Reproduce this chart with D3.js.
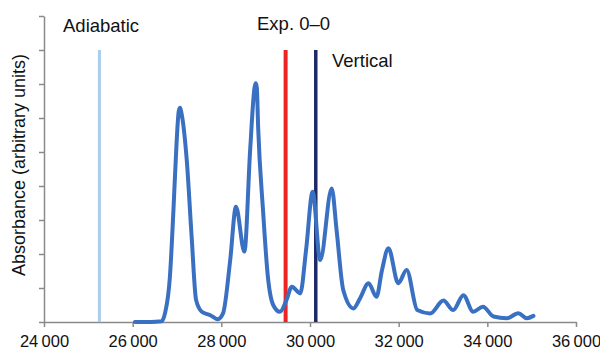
<!DOCTYPE html>
<html lang="en">
<head>
<meta charset="UTF-8">
<title>Absorbance</title>
<style>
  body { margin: 0; background: #fff; }
  text { font-family: "Liberation Sans", Arial, sans-serif; }
</style>
</head>
<body>
<svg width="600" height="352"></svg>
<script src="https://d3js.org/d3.v7.min.js"></script>
<script>
// spectrum: wavenumber (cm-1) and absorbance
const wavenumber = [26050, 26400, 26650, 26730, 26840, 26920, 26990, 27040, 27070, 27100, 27220, 27330, 27430, 27560, 27750, 27920,
  28040, 28200, 28330, 28520, 28650, 28750, 28775, 28800, 28830, 28940, 29050, 29170, 29320, 29470, 29590, 29780, 29910,
  30060, 30230, 30490, 30600, 30750, 30980, 31130, 31320, 31500, 31620, 31770, 31990, 32180, 32420, 32710, 33010, 33230,
  33460, 33680, 33900, 34140, 34440, 34700, 34890, 35040];
const absorbance = [0, 0, 0.02, 0.26, 1.33, 3.3, 5.26, 6.2, 6.3, 6.15, 4.76, 2.51, 0.65, 0.3, 0.2, 0.08,
  0.26, 1.82, 3.39, 2.07, 5.06, 6.9, 7.02, 6.9, 5.74, 3.29, 1.33, 0.5, 0.3, 0.65, 1.04, 0.84, 2.1,
  3.83, 1.82, 3.93, 2.7, 0.94, 0.4, 0.7, 1.14, 0.74, 1.5, 2.17, 1.14, 1.53, 0.35, 0.25, 0.63, 0.35,
  0.79, 0.3, 0.45, 0.16, 0.11, 0.26, 0.11, 0.18];

const xTicks = [24000, 26000, 28000, 30000, 32000, 34000, 36000];
const yTicks = [0, 1, 2, 3, 4, 5, 6, 7, 8, 9];

const markerNames = ["Adiabatic", "Exp. 0\u20130", "Vertical"];
const markerPos = [25250, 29450, 30130];
const markerTop = 8;

let svg = d3.select("svg");
let x = d3.scaleLinear().domain([24000, 36000]).range([44, 576]);
let y = d3.scaleLinear().domain([0, 9]).range([322, 16]);

// axes
let xAxis = svg.append("g")
  .attr("transform", "translate(0," + y(0) + ")")
  .call(d3.axisBottom(x).tickValues(xTicks).tickSize(5).tickSizeOuter(0)
    .tickFormat(d => d3.format(",")(d).replace(",", "\u2009")));
xAxis.selectAll("line, path").attr("stroke", "#8a8a8a").attr("stroke-width", 1.5);
xAxis.selectAll("text").attr("font-size", 16.5).attr("fill", "#111").attr("dy", "1.0em")
  .style("font-family", "Liberation Sans, Arial, sans-serif");

let yAxis = svg.append("g")
  .attr("transform", "translate(" + x(24000) + ",0)")
  .call(d3.axisLeft(y).tickValues(yTicks).tickSize(5).tickSizeOuter(0).tickFormat(""));
yAxis.selectAll("line, path").attr("stroke", "#8a8a8a").attr("stroke-width", 1.5);

svg.append("text")
  .attr("transform", "translate(25," + ((y(0) + y(9)) / 2 - 4) + ") rotate(-90)")
  .attr("text-anchor", "middle")
  .attr("font-size", 18)
  .attr("fill", "#111")
  .text("Absorbance (arbitrary units)");

// marker lines
const markerColor = ["#aacdea", "#ee2424", "#1d2a66"];
const markerWidth = [3, 4, 3.5];
markerPos.forEach((p, i) => {
  svg.append("line")
    .attr("x1", x(p)).attr("x2", x(p))
    .attr("y1", y(markerTop)).attr("y2", y(0))
    .attr("stroke", markerColor[i])
    .attr("stroke-width", markerWidth[i]);
});

svg.append("text").attr("x", 63).attr("y", 32).attr("font-size", 18.5).attr("fill", "#111").text(markerNames[0]);
svg.append("text").attr("x", 257).attr("y", 30).attr("font-size", 18.5).attr("fill", "#111").text(markerNames[1]);
svg.append("text").attr("x", 332).attr("y", 66.5).attr("font-size", 18.5).attr("fill", "#111").text(markerNames[2]);

// spectrum
let line = d3.line()
  .x((d, i) => x(wavenumber[i]))
  .y(d => y(d))
  .curve(d3.curveMonotoneX);

svg.append("path")
  .datum(absorbance)
  .attr("fill", "none")
  .attr("stroke", "#3a70c2")
  .attr("stroke-width", 4)
  .attr("stroke-linejoin", "round")
  .attr("stroke-linecap", "round")
  .attr("d", line);
</script>
</body>
</html>
